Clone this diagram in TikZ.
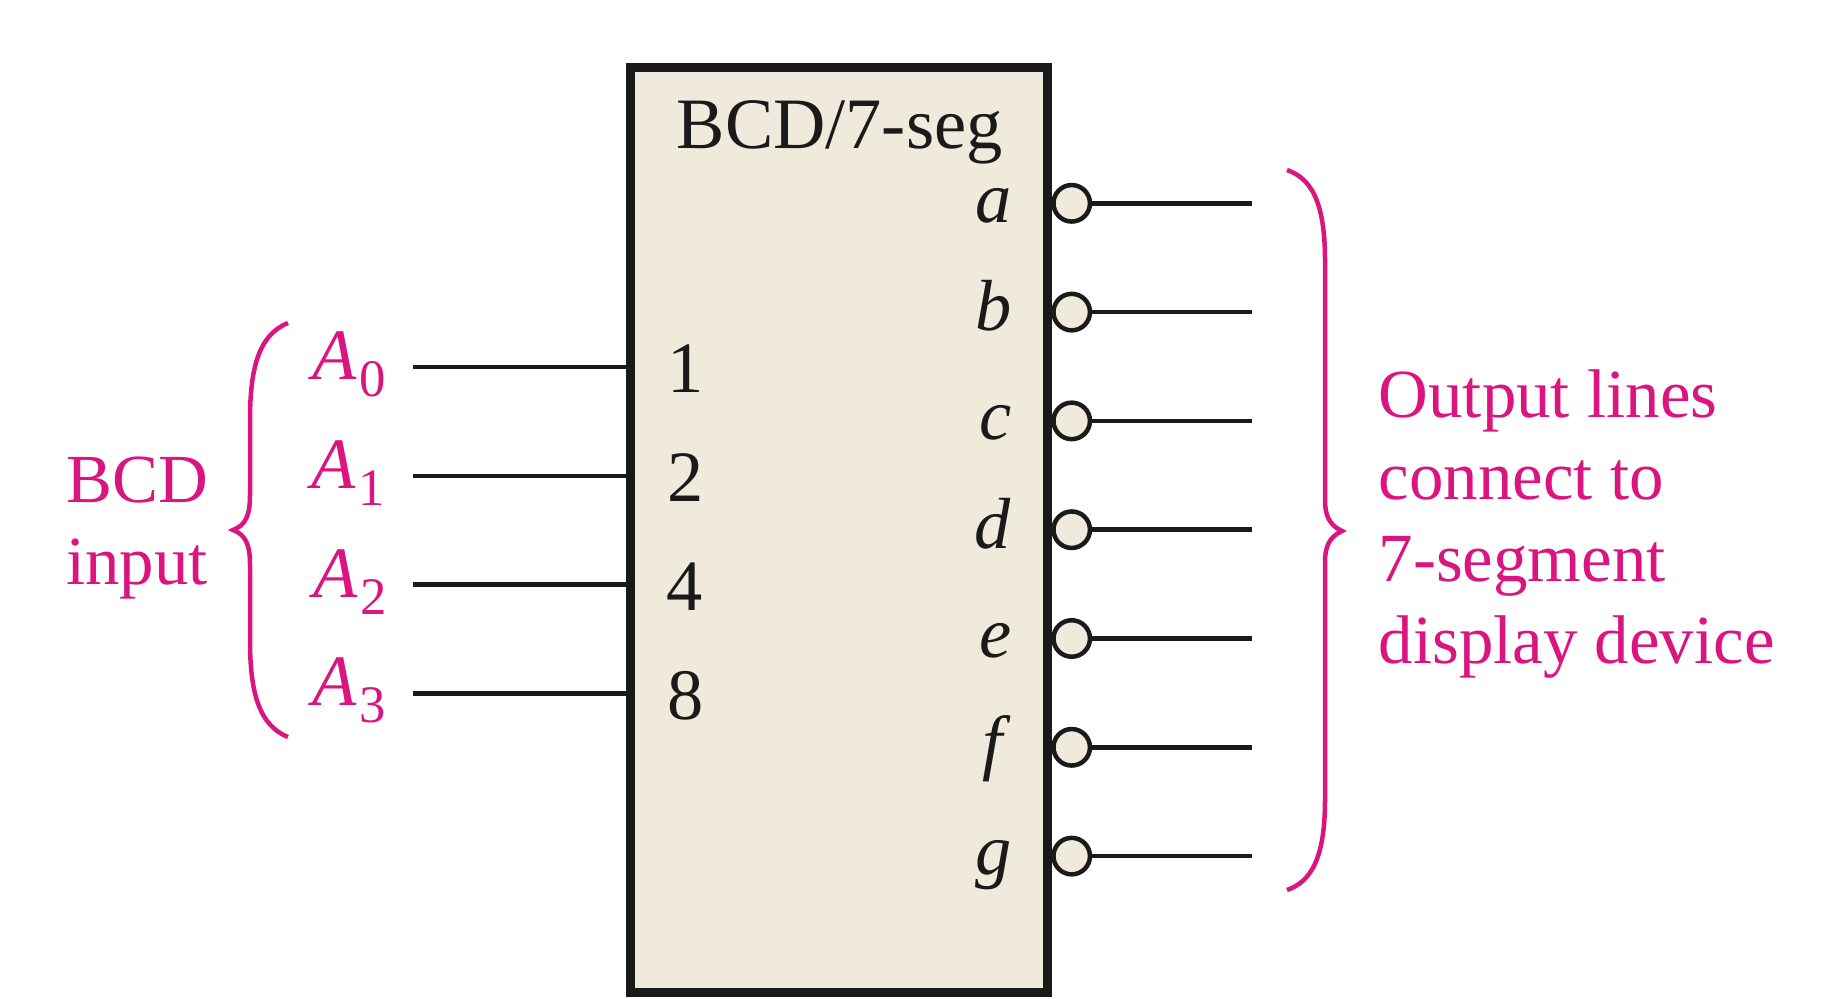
\documentclass[tikz,border=0pt]{standalone}
\usepackage{xcolor}
\usepackage{fontspec}
\setmainfont{Liberation Serif}
\usetikzlibrary{positioning}
\definecolor{blockfill}{HTML}{F0EADC}
\definecolor{wireblack}{HTML}{1A1A1A}
\definecolor{notepink}{HTML}{DA1580}
\newcommand{\sizetext}{\fontsize{19.6pt}{23.3pt}\selectfont}
\newcommand{\sizepin}{\fontsize{20.6pt}{24pt}\selectfont}
\newcommand{\sizesub}{\fontsize{15pt}{18pt}\selectfont}
\newcommand{\inlabel}[1]{{\sizepin\textit{A}}\raisebox{-0.17cm}{\sizesub\kern0.03cm #1}}
\tikzset{
  every picture/.style = {
    >=stealth,
    node distance = 0.678cm and 0.3cm,
  }
  ,
  block/.style = {
    rectangle,
    draw = wireblack,
    fill = blockfill,
    line width = 0.09cm,
    minimum width = 4.17cm,
    minimum height = 9.242cm
  }
  , % little circles on the outputs
  bubble/.style = {
    circle,
    draw = wireblack,
    fill = blockfill,
    line width = 0.045cm,
    minimum size = 0.365cm,
    inner sep = 0pt
  }
  ,
  wire/.style = {
    draw = wireblack,
    line width = 0.046cm
  }
  ,
  curly/.style = {
    draw = notepink,
    line width = 0.045cm
  }
  , % labels inside the block
  label-pin/.style = {
    font = \sizepin,
    text = wireblack,
    inner sep = 0pt
  }
  , % labels outside the block
  label-note/.style = {
    font = \sizetext,
    text = notepink,
    inner sep = 0pt
  }
}

\begin{document}
\begin{tikzpicture}
\useasboundingbox (0,0) rectangle (18.42,-9.99);

\node [block] (dec) at (8.39,-5.301) {};
\node [label-pin, anchor=base west] (title) at (6.76,-1.49) {BCD/7-seg};

% inputs
\coordinate (in0) at (4.13,-3.67);
\coordinate [below = 1.088cm of in0] (in1);
\coordinate [below = 1.088cm of in1] (in2);
\coordinate [below = 1.088cm of in2] (in3);
\node [label-note, left = 0.26cm of in0, yshift=0.03cm] (a0) {\inlabel{0}};
\node [label-note, left = 0.27cm of in1, yshift=0.03cm] (a1) {\inlabel{1}};
\node [label-note, left = 0.25cm of in2, yshift=0.03cm] (a2) {\inlabel{2}};
\node [label-note, left = 0.26cm of in3, yshift=0.03cm] (a3) {\inlabel{3}};
\draw [wire] (in0) -- (in0 -| dec.west) coordinate (p0);
\draw [wire] (in1) -- (in1 -| dec.west) coordinate (p1);
\draw [wire] (in2) -- (in2 -| dec.west) coordinate (p2);
\draw [wire] (in3) -- (in3 -| dec.west) coordinate (p3);
\node [label-pin, right = 0.41cm of p0, yshift=-0.02cm] (w1) {1};
\node [label-pin, right = 0.41cm of p1, yshift=-0.02cm] (w2) {2};
\node [label-pin, right = 0.40cm of p2, yshift=-0.02cm] (w4) {4};
\node [label-pin, right = 0.41cm of p3, yshift=-0.02cm] (w8) {8};

% outputs
\node [bubble] (oa) at (10.717,-2.033) {};
\node [bubble, below = of oa] (ob) {};
\node [bubble, below = of ob] (oc) {};
\node [bubble, below = of oc] (od) {};
\node [bubble, below = of od] (oe) {};
\node [bubble, below = of oe] (of) {};
\node [bubble, below = of of] (og) {};
\coordinate [right = 1.6cm of oa] (ea);
\coordinate [right = 1.6cm of ob] (eb);
\coordinate [right = 1.6cm of oc] (ec);
\coordinate [right = 1.6cm of od] (ed);
\coordinate [right = 1.6cm of oe] (ee);
\coordinate [right = 1.6cm of of] (ef);
\coordinate [right = 1.6cm of og] (eg);
\draw [wire] (oa) -- (ea);
\draw [wire] (ob) -- (eb);
\draw [wire] (oc) -- (ec);
\draw [wire] (od) -- (ed);
\draw [wire] (oe) -- (ee);
\draw [wire] (of) -- (ef);
\draw [wire] (og) -- (eg);
\node [label-pin, anchor=base east] (la) at (10.12,-2.22) {\textit{a}};
\node [label-pin, anchor=base east] (lb) at (10.12,-3.30) {\textit{b}};
\node [label-pin, anchor=base east] (lc) at (10.12,-4.39) {\textit{c}};
\node [label-pin, anchor=base east] (ld) at (10.12,-5.48) {\textit{d}};
\node [label-pin, anchor=base east] (le) at (10.12,-6.57) {\textit{e}};
\node [label-pin, anchor=base east] (lf) at (10.12,-7.66) {\textit{f}};
\node [label-pin, anchor=base east] (lg) at (10.12,-8.74) {\textit{g}};

% curly brackets
\draw [curly] (2.88,-3.23) .. controls (2.58,-3.35) and (2.50,-3.70) .. (2.50,-4.20)
  -- (2.50,-4.95) .. controls (2.50,-5.15) and (2.46,-5.25) .. (2.33,-5.30)
  .. controls (2.46,-5.35) and (2.50,-5.45) .. (2.50,-5.65)
  -- (2.50,-6.40) .. controls (2.50,-6.90) and (2.58,-7.25) .. (2.88,-7.37);
\draw [curly] (12.87,-1.70) .. controls (13.10,-1.78) and (13.25,-2.00) .. (13.25,-2.60)
  -- (13.25,-5.00) .. controls (13.25,-5.15) and (13.29,-5.25) .. (13.42,-5.31)
  .. controls (13.29,-5.37) and (13.25,-5.47) .. (13.25,-5.62)
  -- (13.25,-8.00) .. controls (13.25,-8.60) and (13.10,-8.82) .. (12.87,-8.90);

% notes
\node [label-note, align=center, anchor=base] (bcd) at (1.37,-5.84) {BCD\\input};
\node [label-note, align=left, anchor=base west] (lines) at (13.78,-6.63)
  {Output lines\\connect to\\7-segment\\display device};
\end{tikzpicture}
\end{document}
